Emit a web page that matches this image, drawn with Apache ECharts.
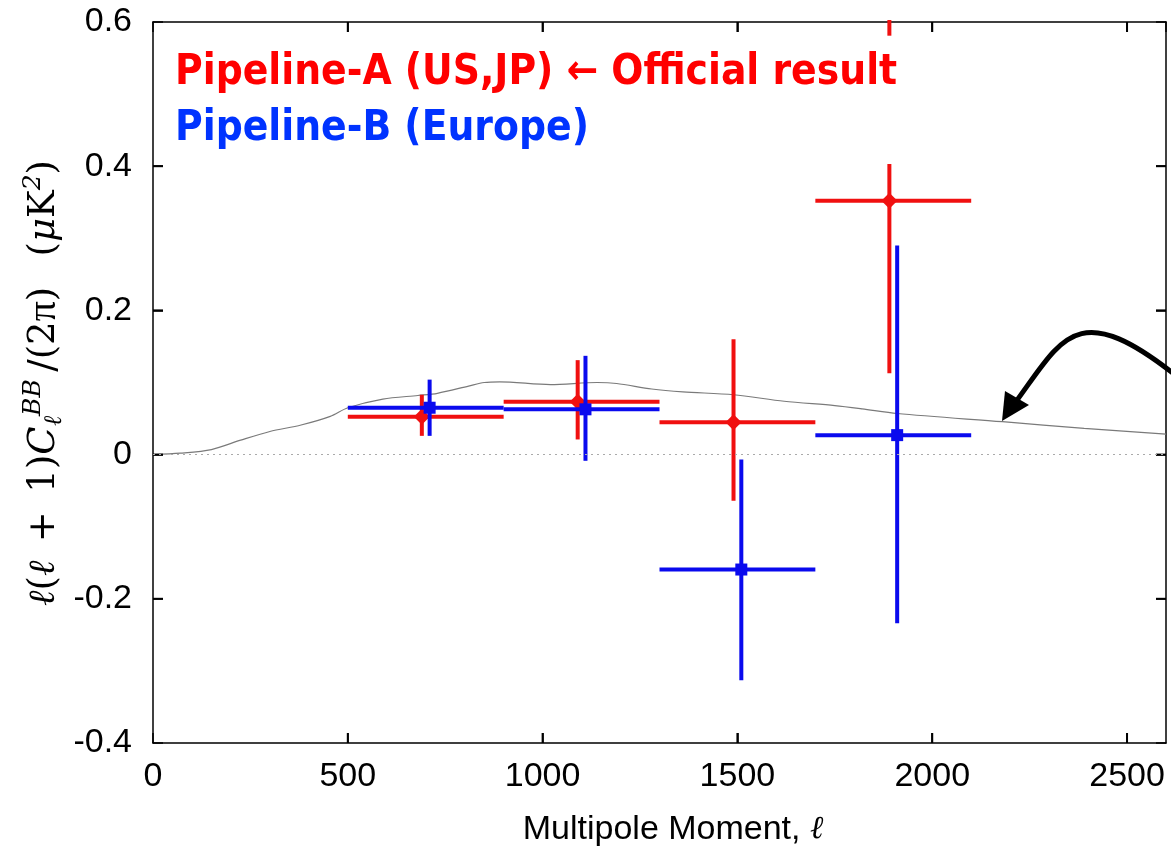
<!DOCTYPE html>
<html>
<head>
<meta charset="utf-8">
<script src="https://cdn.jsdelivr.net/npm/echarts@6/dist/echarts.min.js"></script>
<style>
  html, body { margin: 0; padding: 0; background: #fff; }
  #chart { width: 1171px; height: 849px; }
</style>
</head>
<body>
<div id="chart"></div>
<script>
// theory BB curve (thin gray)
const theoryEll = [0, 70, 150, 225, 300, 380, 455, 500, 590, 680, 730, 810, 850, 890, 1020, 1140, 1190, 1280, 1360, 1490, 1620, 1750, 1820, 1910, 2180, 2390, 2600];
const theoryBB = [0, 0.002, 0.007, 0.02, 0.032, 0.041, 0.053, 0.065, 0.077, 0.082, 0.085, 0.095, 0.1, 0.101, 0.097, 0.1, 0.0986, 0.091, 0.087, 0.083, 0.074, 0.068, 0.0635, 0.057, 0.0456, 0.0365, 0.0285];

// bin edges (horizontal error bars)
const binLo = [500, 900, 1300, 1700];
const binHi = [900, 1300, 1700, 2100];

// Pipeline-A (red diamonds)
const pipeAEll = [690, 1090, 1490, 1890];
const pipeAVal = [0.0525, 0.0733, 0.0447, 0.352];
const pipeALo = [0.026, 0.021, -0.064, 0.113];
const pipeAHi = [0.083, 0.131, 0.16, 0.403];

// Pipeline-B (blue squares)
const pipeBEll = [710, 1110, 1510, 1910];
const pipeBVal = [0.065, 0.0628, -0.1594, 0.027];
const pipeBLo = [0.026, -0.0086, -0.313, -0.234];
const pipeBHi = [0.104, 0.137, -0.0067, 0.29];

// red fragment sticking in from above the top frame
const strayEll = [1890, 1890];
const strayVal = [0.581, 0.7];

// tick positions for the frame (all four sides)
const xTickVals = [500, 1000, 1500, 2000, 2500];
const yTickVals = [-0.2, 0, 0.2, 0.4];

const X_MIN = 0, X_MAX = 2600, Y_MIN = -0.4, Y_MAX = 0.6;
const RED = '#f01010';
const BLUE = '#0a0aee';

const chart = echarts.init(document.getElementById('chart'));

// frame ticks pointing inwards, built through the axes
function frameTicks(api) {
  const ts = { stroke: '#000', lineWidth: 2 };
  const out = [];
  xTickVals.forEach(v => {
    const b = api.coord([v, Y_MIN]);
    const t = api.coord([v, Y_MAX]);
    out.push({ type: 'line', shape: { x1: b[0], y1: b[1], x2: b[0], y2: b[1] - 10 }, style: ts });
    out.push({ type: 'line', shape: { x1: t[0], y1: t[1], x2: t[0], y2: t[1] + 10 }, style: ts });
  });
  yTickVals.forEach(v => {
    const l = api.coord([X_MIN, v]);
    const r = api.coord([X_MAX, v]);
    out.push({ type: 'line', shape: { x1: l[0], y1: l[1], x2: l[0] + 10, y2: l[1] }, style: ts });
    out.push({ type: 'line', shape: { x1: r[0], y1: r[1], x2: r[0] - 10, y2: r[1] }, style: ts });
  });
  return out;
}

function errRender(kind, color, withTicks) {
  return function (params, api) {
    const c = api.coord([api.value(0), api.value(1)]);
    const l = api.coord([api.value(2), api.value(1)]);
    const r = api.coord([api.value(3), api.value(1)]);
    const lo = api.coord([api.value(0), api.value(4)]);
    const hi = api.coord([api.value(0), api.value(5)]);
    const ls = { stroke: color, lineWidth: 4 };
    const children = [
      { type: 'line', shape: { x1: l[0], y1: l[1], x2: r[0], y2: r[1] }, style: ls },
      { type: 'line', shape: { x1: lo[0], y1: lo[1], x2: hi[0], y2: hi[1] }, style: ls }
    ];
    if (kind === 'diamond') {
      children.push({
        type: 'polygon',
        shape: { points: [[c[0], c[1] - 8], [c[0] + 8, c[1]], [c[0], c[1] + 8], [c[0] - 8, c[1]]] },
        style: { fill: color }
      });
    } else {
      children.push({
        type: 'rect',
        shape: { x: c[0] - 6, y: c[1] - 6, width: 12, height: 12 },
        style: { fill: color }
      });
    }
    if (withTicks && params.dataIndex === 0) {
      frameTicks(api).forEach(t => children.push(t));
    }
    return { type: 'group', children: children };
  };
}

function axisCommon() {
  return {
    axisLine: { show: true, onZero: false, lineStyle: { color: '#000', width: 1.5 } },
    axisTick: { show: true, inside: true, length: 10, lineStyle: { color: '#000', width: 1.5 } },
    splitLine: { show: false }
  };
}

const tickFont = { fontFamily: 'Liberation Sans', fontSize: 34, color: '#000' };

chart.setOption({
  animation: false,
  backgroundColor: '#fff',
  grid: { left: 153, right: 5, top: 22, bottom: 106 },
  xAxis: [
    Object.assign({
      type: 'value', min: X_MIN, max: X_MAX, interval: 500, position: 'bottom',
      axisLabel: Object.assign({ margin: 17, showMaxLabel: false, formatter: v => String(v) }, tickFont)
    }, axisCommon()),
    Object.assign({
      type: 'value', min: X_MIN, max: X_MAX, interval: 500, position: 'top',
      axisLabel: { show: false }
    }, axisCommon())
  ],
  yAxis: [
    Object.assign({
      type: 'value', min: Y_MIN, max: Y_MAX, interval: 0.2, position: 'left',
      axisLabel: Object.assign({
        margin: 21,
        formatter: v => Math.abs(v) < 1e-9 ? '0' : v.toFixed(1)
      }, tickFont)
    }, axisCommon()),
    Object.assign({
      type: 'value', min: Y_MIN, max: Y_MAX, interval: 0.2, position: 'right',
      axisLabel: { show: false }
    }, axisCommon())
  ],
  series: [
    {
      type: 'line',
      data: theoryEll.map((e, i) => [e, theoryBB[i]]),
      smooth: 0.3,
      symbol: 'none',
      lineStyle: { color: '#7a7a7a', width: 1.2 },
      silent: true,
      z: 1,
      markLine: {
        silent: true,
        symbol: ['none', 'none'],
        label: { show: false },
        lineStyle: { color: '#aaa', type: [2, 4], width: 1.2 },
        data: [{ yAxis: 0 }]
      }
    },
    {
      type: 'line',
      data: strayEll.map((e, i) => [e, strayVal[i]]),
      symbol: 'none',
      lineStyle: { color: RED, width: 4 },
      silent: true,
      z: 2
    },
    {
      type: 'custom',
      renderItem: errRender('diamond', RED, false),
      data: pipeAEll.map((e, i) => [e, pipeAVal[i], binLo[i], binHi[i], pipeALo[i], pipeAHi[i]]),
      encode: { x: 0, y: 1 },
      clip: false,
      silent: true,
      z: 3
    },
    {
      type: 'custom',
      renderItem: errRender('square', BLUE, true),
      data: pipeBEll.map((e, i) => [e, pipeBVal[i], binLo[i], binHi[i], pipeBLo[i], pipeBHi[i]]),
      encode: { x: 0, y: 1 },
      clip: false,
      silent: true,
      z: 4
    }
  ],
  graphic: [
    {
      type: 'text', left: 175, top: 52, z: 10,
      style: { text: 'Pipeline-A (US,JP) \u2190 Official result', fill: '#ff0000', font: 'bold 42px "DejaVu Sans Condensed", "DejaVu Sans"' }
    },
    {
      type: 'text', left: 175, top: 108, z: 10,
      style: { text: 'Pipeline-B (Europe)', fill: '#0033ff', font: 'bold 42px "DejaVu Sans Condensed", "DejaVu Sans"' }
    },
    {
      type: 'text', x: 673, y: 830, z: 10,
      style: {
        text: 'Multipole Moment, {l|\u2113}',
        font: '34px "Liberation Sans"', fill: '#000', align: 'center', verticalAlign: 'middle',
        rich: { l: { fontFamily: 'DejaVu Serif', fontStyle: 'italic', fontSize: 32, fill: '#000' } }
      }
    },
    {
      type: 'text', x: 44, y: 160, rotation: Math.PI / 2, z: 10,
      style: {
        text: '{i|\u2113}{n|(}{i|\u2113}{n|\u2002+\u20021)}{i|C}{sub|\u2113}{sup|BB}{n|\u2009/(2}{pi|\u03c0}{n|)\u2002 (}{i|\u03bc}{n|K}{sup|2}{n|)}',
        align: 'right', verticalAlign: 'middle', fill: '#000',
        rich: {
          n: { fontFamily: 'DejaVu Serif', fontSize: 37, fill: '#000', lineHeight: 46 },
          pi: { fontFamily: 'Liberation Serif', fontSize: 40, fill: '#000', lineHeight: 46 },
          i: { fontFamily: 'DejaVu Serif', fontStyle: 'italic', fontSize: 37, fill: '#000', lineHeight: 46 },
          sup: { fontFamily: 'DejaVu Serif', fontStyle: 'italic', fontSize: 25, fill: '#000', verticalAlign: 'top', lineHeight: 46 },
          sub: { fontFamily: 'DejaVu Serif', fontStyle: 'italic', fontSize: 25, fill: '#000', verticalAlign: 'bottom', lineHeight: 46 }
        }
      }
    },
    {
      type: 'bezierCurve', z: 10,
      shape: { x1: 1174, y1: 374, cpx1: 1076, cpy1: 297, cpx2: 1062, cpy2: 339, x2: 1015, y2: 403 },
      style: { stroke: '#000', lineWidth: 5, fill: null }
    },
    {
      type: 'polygon', z: 10,
      shape: { points: [[1002, 421], [1005, 391], [1029, 405]] },
      style: { fill: '#000' }
    }
  ]
});
</script>
</body>
</html>
